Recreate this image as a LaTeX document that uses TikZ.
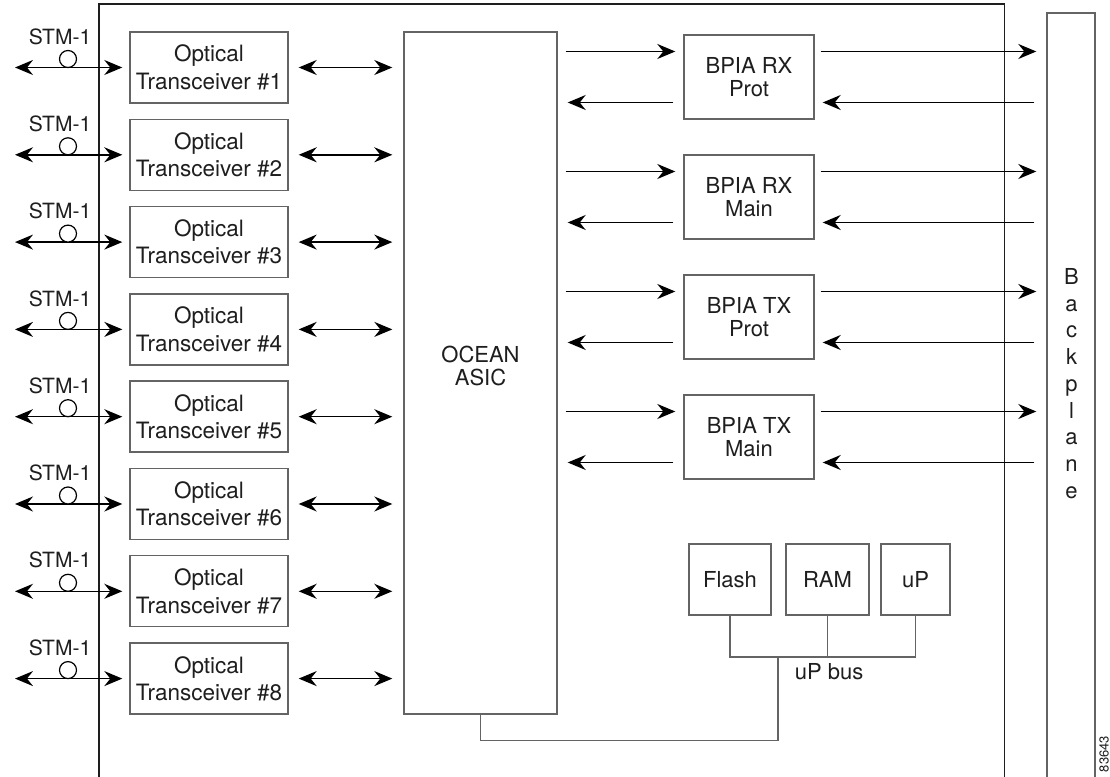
\documentclass[tikz,border=0pt]{standalone}
\usepackage{fontspec}
\setsansfont{TeX Gyre Heros}
\usetikzlibrary{arrows.meta, positioning, calc}
\definecolor{BoxBorder}{RGB}{100,100,100}
\definecolor{FrameLine}{RGB}{30,30,30}
\definecolor{LabelText}{RGB}{30,30,30}
\tikzset{
  every node/.style={font=\sffamily\fontsize{22}{23}\selectfont, text=LabelText},
  arr/.style={-{Stealth[length=18pt,width=15pt,inset=6pt]}, line width=1.5pt, black},
  dblarr/.style={{Stealth[length=18pt,width=15pt,inset=6pt]}-{Stealth[length=18pt,width=15pt,inset=6pt]},
                 line width=1.5pt, black},
  blk/.style={draw=BoxBorder, line width=1.4pt, fill=white, align=center, inner sep=0pt},
  xcvr/.style={blk, minimum width=158pt, minimum height=71pt,
               font=\sffamily\fontsize{22.5}{27.4}\selectfont},
  bpia/.style={blk, minimum width=130pt, minimum height=84pt},
  mem/.style={blk, minimum height=71pt},
  stm/.style={font=\sffamily\fontsize{21}{21}\selectfont, inner sep=0pt},
  fiber/.style={circle, draw=black, line width=1.2pt, fill=white,
                minimum size=17pt, inner sep=0pt},
  bus/.style={draw=BoxBorder, line width=1.4pt}
}
% one optical port: STM-1 fibre, transceiver, link to the ASIC
\newcommand{\xcvrrow}[2]{%
  \node[xcvr] (x#1) at (209,#2) {Optical\\Transceiver \##1};
  \node[stm] (stm#1) at (60,#2+31) {STM-1};
  \coordinate (line#1) at (15,#2);
  \draw[dblarr, shorten >=7pt] (line#1) -- (x#1.west);
  \node[fiber] (fb#1) at (68,#2+8.5) {};
  \draw[dblarr, shorten <=10pt, shorten >=11pt] (x#1.east) -- (x#1.east -| asic.west);
}
% one BPIA block with its four links
\newcommand{\bpiarow}[3]{%
  \node[bpia] (#1) at (749,#3) {#2};
  \draw[arr] ($(asic.east |- #1.west)+(8,25.5)$) -- ($(#1.west)+(-8,25.5)$);
  \draw[arr] ($(#1.west)+(-10,-25.5)$) -- ($(asic.east |- #1.west)+(10,-25.5)$);
  \draw[arr] ($(#1.east)+(6,25.5)$) -- ($(bp.west |- #1.east)+(-10,25.5)$);
  \draw[arr] ($(bp.west |- #1.east)+(-12,-25.5)$) -- ($(#1.east)+(8,-25.5)$);
}

\begin{document}
\begin{tikzpicture}[x=1pt,y=1pt]
\useasboundingbox (0,0) rectangle (1110,776);

% Card outline (open at the bottom)
\draw[line width=1.3pt, FrameLine] (99,-5) -- (99,772) -- (1004.5,772) -- (1004.5,-5);

% Backplane
\node[draw=BoxBorder, line width=1.4pt, minimum width=48pt, minimum height=800pt,
      inner sep=0pt] (bp) at (1071,363) {};
\node[align=center, font=\sffamily\fontsize{22}{26.7}\selectfont] (bptext) at (1071.5,392.5)
  {B\\a\\c\\k\\p\\l\\a\\n\\e};

% ASIC
\node[blk, minimum width=153pt, minimum height=682pt] (asic) at (480.5,403) {};
\node[align=center] (asictext) at (480.5,410) {OCEAN\\ASIC};

% Optical ports
\xcvrrow{1}{708.5}
\xcvrrow{2}{621.2}
\xcvrrow{3}{533.9}
\xcvrrow{4}{446.6}
\xcvrrow{5}{359.3}
\xcvrrow{6}{272.0}
\xcvrrow{7}{184.7}
\xcvrrow{8}{97.4}

% BPIA blocks
\bpiarow{rxp}{BPIA RX\\Prot}{699}
\bpiarow{rxm}{BPIA RX\\Main}{579}
\bpiarow{txp}{BPIA TX\\Prot}{459}
\bpiarow{txm}{BPIA TX\\Main}{339}

% Processor section
\node[mem, minimum width=82pt] (flash) at (730,196.5) {Flash};
\node[mem, minimum width=83pt] (ram) at (827.5,196.5) {RAM};
\node[mem, minimum width=69pt] (up) at (915.5,196.5) {uP};

\coordinate (tap) at (778,119);
\draw[bus] (flash.south) |- (tap) -| (up.south);
\draw[bus] (ram.south) -- (ram.south |- tap);
\draw[bus] (asic.south) -- ++(0,-26) -| (tap);
\node (busname) at (829,104) {uP bus};

\node[rotate=90, font=\sffamily\fontsize{13}{13}\selectfont] (figid) at (1104,22) {83643};

\end{tikzpicture}
\end{document}
